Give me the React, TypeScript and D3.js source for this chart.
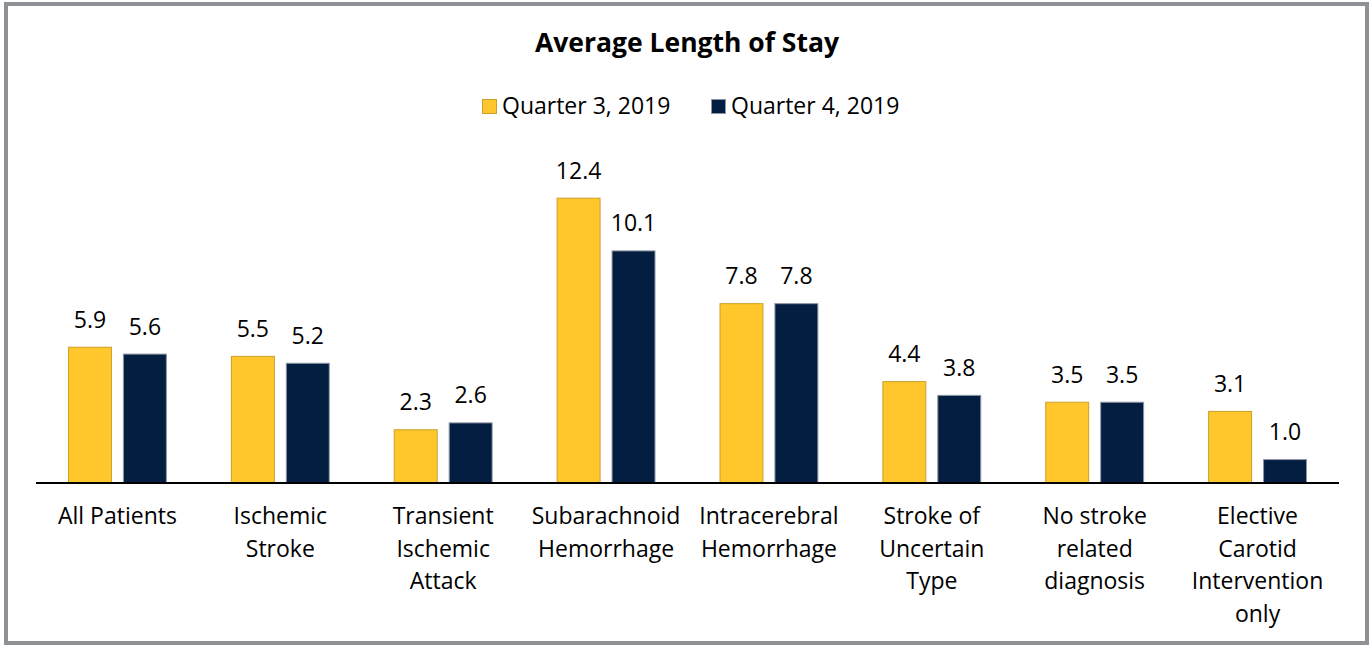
import React, { useEffect, useRef } from 'react';
import * as d3 from 'd3';

const title = 'Average Length of Stay';
const categories = [
  ['All Patients'],
  ['Ischemic', 'Stroke'],
  ['Transient', 'Ischemic', 'Attack'],
  ['Subarachnoid', 'Hemorrhage'],
  ['Intracerebral', 'Hemorrhage'],
  ['Stroke of', 'Uncertain', 'Type'],
  ['No stroke', 'related', 'diagnosis'],
  ['Elective', 'Carotid', 'Intervention', 'only'],
];
const seriesNames = ['Quarter 3, 2019', 'Quarter 4, 2019'];
const q3Values = [5.9, 5.5, 2.3, 12.4, 7.8, 4.4, 3.5, 3.1];
const q4Values = [5.6, 5.2, 2.6, 10.1, 7.8, 3.8, 3.5, 1.0];
const fills = ['#FFC72C', '#041E42'];
const strokes = ['#C9A02A', '#8C96A3'];

const W = 1371, H = 646;
const FONT = '"Open Sans", Lato, sans-serif';

export default function App() {
  const ref = useRef<SVGSVGElement>(null);

  useEffect(() => {
    const svg = d3.select(ref.current);
    svg.selectAll('*').remove();

    const baseline = 482;
    const keys = categories.map((c) => c.join(' '));
    const x0 = d3.scaleBand().domain(keys).range([36, 1339]).padding(0);
    const step = x0.bandwidth();
    const x1 = d3.scaleBand<number>().domain([0, 1]).range([32, step - 32]).paddingInner(0.2);
    const y = d3.scaleLinear().domain([0, 13]).range([baseline, baseline - 13 * 22.93]);

    // frame
    svg.append('rect')
      .attr('x', 6).attr('y', 4).attr('width', W - 10).attr('height', H - 7)
      .attr('fill', '#fff').attr('stroke', '#8E9196').attr('stroke-width', 4);

    svg.append('text')
      .attr('x', 687).attr('y', 52).attr('text-anchor', 'middle')
      .attr('font-family', FONT).attr('font-weight', 'bold').attr('font-size', 26.5)
      .attr('fill', '#000').text(title);

    // legend
    const legendX = [482, 711];
    seriesNames.forEach((name, i) => {
      svg.append('rect')
        .attr('x', legendX[i] + 0.5).attr('y', 99.5).attr('width', 14).attr('height', 14)
        .attr('fill', fills[i]).attr('stroke', strokes[i]);
      svg.append('text')
        .attr('x', legendX[i] + 20).attr('y', 114)
        .attr('font-family', FONT).attr('font-size', 23).attr('fill', '#000')
        .text(name);
    });

    const data = keys.map((k, i) => ({ key: k, values: [q3Values[i], q4Values[i]] }));
    const groups = svg.selectAll('g.cat').data(data).join('g')
      .attr('class', 'cat')
      .attr('transform', (d) => `translate(${x0(d.key)},0)`);

    groups.selectAll('rect').data((d) => d.values).join('rect')
      .attr('x', (_, i) => x1(i)! + 0.5)
      .attr('y', (v) => y(v) + 0.5)
      .attr('width', x1.bandwidth() - 1)
      .attr('height', (v) => baseline - y(v))
      .attr('fill', (_, i) => fills[i])
      .attr('stroke', (_, i) => strokes[i])
      .attr('stroke-width', 1);

    groups.selectAll('text.val').data((d) => d.values).join('text')
      .attr('class', 'val')
      .attr('x', (_, i) => x1(i)! + x1.bandwidth() / 2)
      .attr('y', (v) => y(v) - 19)
      .attr('text-anchor', 'middle')
      .attr('font-family', FONT).attr('font-size', 23).attr('fill', '#000')
      .text((v) => v.toFixed(1));

    // axis line
    svg.append('line')
      .attr('x1', 36).attr('x2', 1339).attr('y1', baseline + 1).attr('y2', baseline + 1)
      .attr('stroke', '#000').attr('stroke-width', 2);

    // category labels
    data.forEach((d, i) => {
      const t = svg.append('text')
        .attr('x', x0(d.key)! + step / 2).attr('y', 524)
        .attr('text-anchor', 'middle')
        .attr('font-family', FONT).attr('font-size', 23).attr('fill', '#000');
      categories[i].forEach((line, j) => {
        t.append('tspan').attr('x', x0(d.key)! + step / 2).attr('y', 524 + j * 32.5).text(line);
      });
    });
  }, []);

  return (
    <svg ref={ref} width={W} height={H}
      style={{ position: 'absolute', left: 0, top: 0, background: '#fff' }} />
  );
}
